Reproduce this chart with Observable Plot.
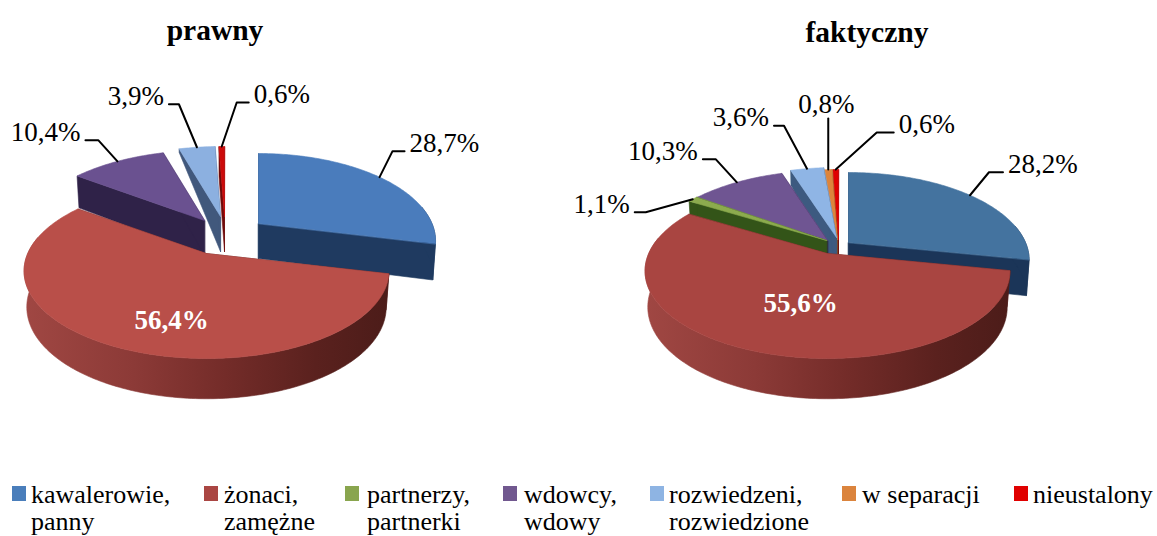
<!DOCTYPE html>
<html lang="pl">
<head>
<meta charset="utf-8">
<script src="https://cdn.jsdelivr.net/npm/d3@7"></script>
<script src="https://cdn.jsdelivr.net/npm/@observablehq/plot@0.6"></script>
<style>
html,body{margin:0;padding:0;background:#fff;width:1157px;height:536px;overflow:hidden}
body{font-family:"Liberation Serif",serif;color:#000;position:relative}
#head{position:relative;height:50px}
#head div{position:absolute;transform:translateX(-50%);font-weight:bold;font-size:29.5px;line-height:34px;white-space:nowrap}
#chart svg{display:block}
#legend{position:absolute;left:0;top:481px;width:1157px;height:55px}
.item{position:absolute;top:0;font-size:26px;line-height:27px;white-space:nowrap}
.item i{position:absolute;top:5px;width:14px;height:15px}
</style>
</head>
<body>
<div id="head"></div>
<div id="chart"></div>
<div id="legend"></div>
<script>
// ---- values ----
const titles = ["prawny", "faktyczny"];
const categories = [["kawalerowie,", "panny"], ["żonaci,", "zamężne"], ["partnerzy,", "partnerki"], ["wdowcy,", "wdowy"], ["rozwiedzeni,", "rozwiedzione"], ["w separacji"], ["nieustalony"]];
const prawny = [28.7, 56.4, 0, 10.4, 3.9, 0, 0.6];
const faktyczny = [28.2, 55.6, 1.1, 10.3, 3.6, 0.8, 0.6];

// ---- styling and layout ----
const legendColors = ["#4A7EBB", "#AA4643", "#89A54E", "#71588F", "#8EB4E3", "#DB843D", "#E00000"];
const legendX = [12, 204, 345, 503, 650, 842, 1014];
const legendTextX = [31, 224, 367, 524, 669, 862, 1033];
const topColors = [
  ["#4A7CBC", "#B94F49", "#8CAB4E", "#6A5190", "#8CB0E0", "#DD843B", "#CC0A0A"],
  ["#44739F", "#A94541", "#8CAB4E", "#6F5592", "#8FB5E5", "#DD843B", "#E00000"]
];
const sideColors = [
  ["#1F3A60", "url(#wallRed)", "#3C5A1F", "#2F2248", "#41587C", "#8A4A1A", "#6E0A0A"],
  ["#1B3558", "url(#wallRed)", "#335418", "#2F2248", "#3D5A80", "#8A4A1A", "#6E0A0A"]
];
const R = 177, H = 84, K = 0.2, D = 35;
const titleX = [215, 867], titleTop = [13, 15];
// where each exploded slice's tip sits, by category
const tips = [
  [[258, 223], [206, 253], null, [204, 220], [220, 216], null, [224, 216]],
  [[848, 242], [827, 253], [826, 240], [827, 240], [836, 237], [837, 239], [838, 239]]
];
const radiusScale = [[0.98, 1.01, 1, 1, 1, 1, 1], [1, 1.01, 1, 1, 1, 1, 1]];
const paintOrder = [[4, 6, 3, 0, 1], [6, 5, 4, 3, 2, 0, 1]];
const startFaceDepth = [[1, 1, 1, 1, 0.12, 1, 1], [1, 1, 1, 1, 0.5, 1, 1]];
// leader lines: elbow offset from the slice rim, then a horizontal run
const leaders = [
  [[13, -26, 12], null, null, [-19, -21, -13], [-18, -43, -10], null, [15, -44, 12]],
  [[19, -23, 14], null, [-47, 13, -11], [-21, -23, -13], [-23, -43, -10], [0, -51, 0], [41, -37, 17]]
];
const insideLabel = [[171, 320], [800, 303]];

const fmt = v => String(v).replace(".", ",") + "%";

function rim(tip, deg, scale, bottom = false, f = 1) {
  const a = deg * Math.PI / 180, u = Math.sin(a), v = -Math.cos(a), s = 1 / (1 - K * v);
  let x = R * scale * u * s, y = H * v * s;
  if (bottom) { x *= 1 - 0.015 * f; y += D * (1 + 0.15 * v) * f; }
  return [tip[0] + x, tip[1] + y];
}
const facesViewer = deg => -Math.cos(deg * Math.PI / 180) > -0.2;

const polys = [], lineRows = [], textRows = [], boldRows = [];
[prawny, faktyczny].forEach((vals, p) => {
  const total = d3.sum(vals);
  let acc = 0;
  const spans = vals.map(v => { const s = acc / total * 360; acc += v; return [s, acc / total * 360]; });
  const add = (id, fill, pts) => pts.forEach(([x, y]) => polys.push({id: `${p}-${id}`, fill, x, y}));

  paintOrder[p].forEach(c => {
    const [a0, a1] = spans[c], tip = tips[p][c], n = Math.max(2, Math.ceil(a1 - a0)), sc = radiusScale[p][c];
    const arc = d3.range(n + 1).map(i => a0 + (a1 - a0) * i / n);
    const side = sideColors[p][c], flatSide = c === 1 ? "#5A2320" : side;
    const tipLow = [tip[0], tip[1] + D];
    const f = startFaceDepth[p][c];
    add(c + "a", flatSide, [tip, rim(tip, a0, sc), rim(tip, a0, sc, true, f), tipLow]);
    add(c + "b", flatSide, [tip, rim(tip, a1, sc), rim(tip, a1, sc, true), tipLow]);
    const front = arc.filter(facesViewer);
    if (front.length > 1) add(c + "w", side, [...front.map(a => rim(tip, a, sc)), ...front.slice().reverse().map(a => rim(tip, a, sc, true))]);
    add(c + "t", topColors[p][c], [tip, ...arc.map(a => rim(tip, a, sc))]);

    const lead = leaders[p][c];
    if (lead) {
      const [x0, y0] = rim(tip, (a0 + a1) / 2, sc);
      const ex = x0 + lead[0], ey = y0 + lead[1], rx = ex + lead[2];
      [[x0, y0], [ex, ey], [rx, ey]].forEach(([x, y]) => lineRows.push({id: `${p}-${c}`, x, y}));
      const anchor = lead[2] > 0 ? "start" : lead[2] < 0 ? "end" : "middle";
      textRows.push({
        text: fmt(vals[c]), anchor,
        x: rx + Math.sign(lead[2]) * 5 - (anchor === "middle" ? 2 : 0),
        y: anchor === "middle" ? ey - 14 : ey - 8
      });
    }
  });
  boldRows.push({text: fmt(vals[1]), x: insideLabel[p][0], y: insideLabel[p][1]});
});

const textMark = anchor => Plot.text(textRows.filter(d => d.anchor === anchor), {
  x: "x", y: "y", text: "text", textAnchor: anchor, lineAnchor: "middle",
  fontFamily: "Liberation Serif", fontSize: 27, fill: "#000"
});

const chart = Plot.plot({
  width: 1157, height: 430,
  marginTop: 0, marginRight: 0, marginBottom: 0, marginLeft: 0,
  x: {domain: [0, 1157], range: [0, 1157], axis: null},
  y: {domain: [50, 480], range: [0, 430], axis: null},
  color: {type: "identity"},
  style: {background: "transparent", overflow: "visible"},
  marks: [
    Plot.line(polys, {x: "x", y: "y", z: "id", fill: "fill", stroke: "fill", strokeWidth: 0.6, curve: "linear-closed"}),
    Plot.line(lineRows, {x: "x", y: "y", z: "id", stroke: "#000", strokeWidth: 2, curve: "linear"}),
    textMark("start"), textMark("end"), textMark("middle"),
    Plot.text(boldRows, {x: "x", y: "y", text: "text", lineAnchor: "middle", fontFamily: "Liberation Serif", fontWeight: "bold", fontSize: 27, fill: "#fff"})
  ]
});

// shaded gradient used by the wall of the large slice
const defs = d3.create("svg:defs");
const grad = defs.append("linearGradient").attr("id", "wallRed").attr("x1", 0).attr("x2", 1).attr("y1", 0).attr("y2", 0);
[[0, "#A04743"], [0.3, "#8C3A37"], [0.55, "#742C29"], [0.8, "#5A211E"], [1, "#4C1C19"]]
  .forEach(([o, c]) => grad.append("stop").attr("offset", o).attr("stop-color", c));
chart.insertBefore(defs.node(), chart.firstChild);
document.getElementById("chart").append(chart);

titles.forEach((t, i) => {
  const d = document.createElement("div");
  d.textContent = t;
  d.style.left = titleX[i] + "px";
  d.style.top = titleTop[i] + "px";
  document.getElementById("head").append(d);
});
categories.forEach((lines, i) => {
  const el = document.createElement("div");
  el.className = "item";
  el.style.left = legendTextX[i] + "px";
  const sw = document.createElement("i");
  sw.style.background = legendColors[i];
  sw.style.left = (legendX[i] - legendTextX[i]) + "px";
  el.append(sw);
  lines.forEach((l, j) => { if (j) el.append(document.createElement("br")); el.append(l); });
  document.getElementById("legend").append(el);
});
</script>
</body>
</html>
